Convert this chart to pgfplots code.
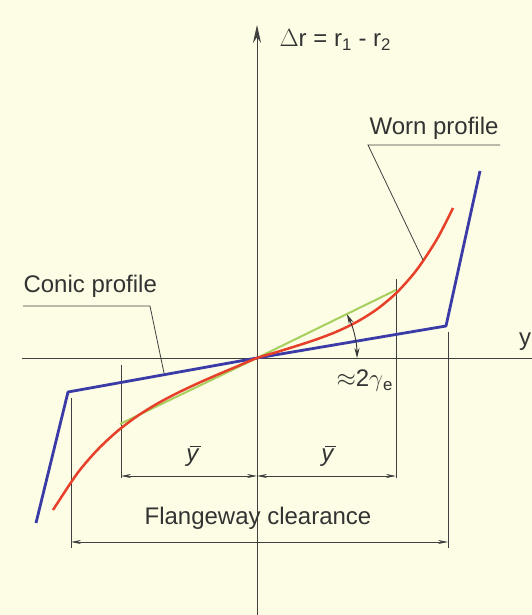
\documentclass[border=0pt]{standalone}
\usepackage{fontspec}
\setmainfont{Liberation Sans}
\usepackage{pgfplots}
\pgfplotsset{compat=1.18}
\usetikzlibrary{arrows.meta}

\definecolor{paper}{HTML}{FDFCE4}
\definecolor{conic}{HTML}{3B3BA8}
\definecolor{worn}{HTML}{E6402A}
\definecolor{chord}{HTML}{A6CF5E}
\definecolor{dim}{HTML}{404040}

% italic y with a bar over it
\newcommand{\ybar}{\textit{y}\llap{\raisebox{15pt}{\rule{11pt}{1.1pt}}\hspace{-1.5pt}}}

\begin{document}
\begin{tikzpicture}[font=\fontsize{24}{28}\selectfont]
\fill[paper] (0,0) rectangle (532pt,615pt);
\begin{axis}[
  at={(0,0)}, anchor=south west,
  x=1pt, y=1pt,
  xmin=-257, xmax=275, ymin=-257, ymax=358,
  hide axis, clip=false,
]
% axes
\draw[dim, line width=0.9pt] (axis cs:-235,0) -- (axis cs:275,0);
\draw[dim, line width=0.9pt, -{Stealth[length=18pt,width=8pt]}] (axis cs:0,-257) -- (axis cs:0,333);
\node[anchor=base west, text=black!80, inner sep=0pt] at (axis cs:262,12) {y};
\node[anchor=base west, text=black!80] at (axis cs:19,311) {$\Delta$r = r\textsubscript{1} - r\textsubscript{2}};

% dimension extension lines
\draw[dim, line width=0.8pt] (axis cs:-136,-7) -- (axis cs:-136,-120);
\draw[dim, line width=0.8pt] (axis cs:139,79) -- (axis cs:139,-120);
\draw[dim, line width=0.8pt] (axis cs:-186,-40) -- (axis cs:-186,-190);
\draw[dim, line width=0.8pt] (axis cs:191,26) -- (axis cs:191,-190);

% equivalent conicity chord
\addplot[chord, line width=2pt] coordinates {(-137,-66) (0,0) (139,68)};

% new conic profile
\addplot[conic, line width=2.8pt, line join=round] coordinates {
  (-221,-165) (-189,-34) (0,0) (189,32) (223,187)};

% worn profile
\addplot[worn, line width=2.5pt, smooth] coordinates {
  (-204,-152) (-180,-115.8) (-160,-92.3) (-140,-73.5) (-120,-58.3)
  (-100,-45.8) (-80,-35.2) (-60,-25.7) (-40,-16.9) (-20,-8.4) (0,0)
  (20,6.0) (40,12.2) (60,18.8) (80,26.5) (100,36.2) (120,48.8)
  (140,65.7) (160,88.5) (180,118.9) (196,150)};

% leaders
\draw[dim, line width=0.8pt] (axis cs:243,213) -- (axis cs:111,213) -- (axis cs:166,98);
\node[anchor=base west, text=black!80] at (axis cs:109,223) {Worn profile};
\draw[dim, line width=0.8pt] (axis cs:-234,52) -- (axis cs:-107,52) -- (axis cs:-93,-15);
\node[anchor=base west, text=black!80] at (axis cs:-237,65) {Conic profile};

% angle
\draw[black!80, line width=0.9pt, {Stealth[length=10pt,width=5pt]}-{Stealth[length=10pt,width=5pt]}]
  (axis cs:100,0) arc[start angle=0, end angle=26, radius=100pt];
\node[anchor=base west, text=black!80] at (axis cs:76,-29) {$\approx$2$\gamma$\textsubscript{e}};

% y-bar dimensions
\draw[dim, line width=0.8pt, {Stealth[length=10pt,width=4pt]}-{Stealth[length=10pt,width=4pt]}]
  (axis cs:-136,-118) -- (axis cs:0,-118);
\draw[dim, line width=0.8pt, {Stealth[length=10pt,width=4pt]}-{Stealth[length=10pt,width=4pt]}]
  (axis cs:0,-118) -- (axis cs:139,-118);
\node[anchor=base, text=black!80] at (axis cs:-64,-104) {\ybar};
\node[anchor=base, text=black!80] at (axis cs:71,-104) {\ybar};

% flangeway clearance
\draw[dim, line width=0.8pt, {Stealth[length=10pt,width=4pt]}-{Stealth[length=10pt,width=4pt]}]
  (axis cs:-186,-184) -- (axis cs:191,-184);
\node[anchor=base, text=black!80] at (axis cs:1,-167) {Flangeway clearance};
\end{axis}
\pgfresetboundingbox
\path[use as bounding box] (0,0) rectangle (532pt,615pt);
\end{tikzpicture}
\end{document}
